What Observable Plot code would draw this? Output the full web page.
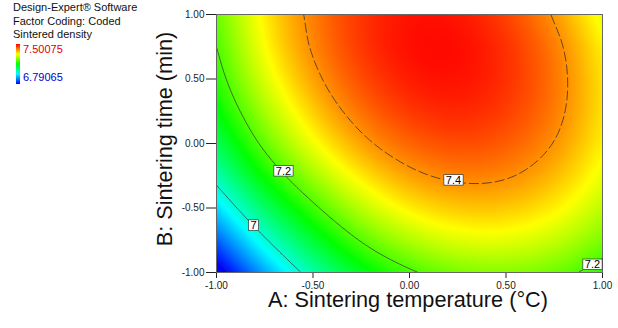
<!DOCTYPE html>
<html><head><meta charset="utf-8">
<script src="https://cdn.jsdelivr.net/npm/d3@7"></script>
<script src="https://cdn.jsdelivr.net/npm/@observablehq/plot@0.6"></script>
<style>
body{margin:0;background:#fff;}
#wrap{position:relative;width:618px;height:328px;font-family:Arial,"Liberation Sans",sans-serif;overflow:hidden;}
.lg{position:absolute;font-size:11px;line-height:13px;white-space:nowrap;color:#111;}
#bar{position:absolute;left:16px;top:44px;width:4px;height:40px;background:linear-gradient(to bottom,#ff0000,#ffff00,#00ff00,#00ffff,#0000ff);}
.axl{position:absolute;font-size:21.7px;line-height:14px;white-space:nowrap;color:#111;}
</style></head>
<body>
<div id="wrap">
  <div id="chart"></div>
  <div class="lg" style="left:13px;top:1px">Design-Expert® Software</div>
  <div class="lg" style="left:13px;top:15px">Factor Coding: Coded</div>
  <div class="lg" style="left:13px;top:28px">Sintered density</div>
  <div id="bar"></div>
  <div class="lg" id="lgMax" style="left:23px;top:43px;color:#e00000"></div>
  <div class="lg" id="lgMin" style="left:23px;top:71px;color:#0000d0"></div>
  <div class="axl" id="xlab" style="left:408px;top:293px;transform:translateX(-50%)"></div>
  <div class="axl" id="ylab" style="left:165px;top:139px;transform:translate(-50%,-50%) rotate(-90deg)"></div>
</div>
<script>
// Factor levels (coded) of the read-off grid
const tempA = [-1, -0.75, -0.5, -0.25, 0, 0.25, 0.5, 0.75, 1];
const timeB = [-1, -0.75, -0.5, -0.25, 0, 0.25, 0.5, 0.75, 1];
// Sintered density; one row per timeB value, columns follow tempA
const density = [
  [6.763, 6.906, 7.028, 7.125, 7.191, 7.229, 7.239, 7.221, 7.175],
  [6.856, 6.992, 7.109, 7.204, 7.267, 7.300, 7.305, 7.282, 7.231],
  [6.943, 7.075, 7.187, 7.275, 7.333, 7.360, 7.360, 7.332, 7.276],
  [7.022, 7.152, 7.257, 7.336, 7.387, 7.409, 7.404, 7.370, 7.310],
  [7.087, 7.214, 7.314, 7.386, 7.430, 7.447, 7.436, 7.398, 7.332],
  [7.138, 7.261, 7.356, 7.422, 7.461, 7.473, 7.457, 7.414, 7.343],
  [7.175, 7.297, 7.386, 7.447, 7.481, 7.488, 7.467, 7.419, 7.343],
  [7.200, 7.321, 7.405, 7.461, 7.490, 7.492, 7.466, 7.413, 7.332],
  [7.220, 7.334, 7.413, 7.464, 7.488, 7.485, 7.454, 7.395, 7.309]
];
const legendMax = "7.50075";
const legendMin = "6.79065";
const colorStops = [6.79065, 6.968, 7.146, 7.323, 7.50075];
const colorRange = ["#0000ff", "#00ffff", "#00ff00", "#ffff00", "#ff0000"];
const levelsSolid = [6.8, 7, 7.2];
const levelsDashed = [7.4];
const labelText = ["7.2", "7.4", "7", "7.2"];
const labelA = [-0.653, 0.228, -0.808, 0.948];
const labelB = [-0.214, -0.284, -0.634, -0.938];
const axisTicks = [-1, -0.5, 0, 0.5, 1];
const xTitle = "A: Sintering temperature (°C)";
const yTitle = "B: Sintering time (min)";

document.getElementById("lgMax").textContent = legendMax;
document.getElementById("lgMin").textContent = legendMin;
document.getElementById("xlab").textContent = xTitle;
document.getElementById("ylab").textContent = yTitle;

// smooth (Catmull-Rom) rendering of the read-off grid
const nA = tempA.length, nB = timeB.length;
const stepA = tempA[1] - tempA[0], stepB = timeB[1] - timeB[0];
function gv(i, j) {
  if (i < 0) return 2 * gv(0, j) - gv(1, j);
  if (i > nA - 1) return 2 * gv(nA - 1, j) - gv(nA - 2, j);
  if (j < 0) return 2 * gv(i, 0) - gv(i, 1);
  if (j > nB - 1) return 2 * gv(i, nB - 1) - gv(i, nB - 2);
  return density[j][i];
}
function cr(p0, p1, p2, p3, t) {
  return p1 + 0.5 * t * (p2 - p0 + t * (2 * p0 - 5 * p1 + 4 * p2 - p3 + t * (3 * (p1 - p2) + p3 - p0)));
}
function surface(a, b) {
  const u = (a - tempA[0]) / stepA, w = (b - timeB[0]) / stepB;
  const i = Math.max(0, Math.min(nA - 2, Math.floor(u)));
  const j = Math.max(0, Math.min(nB - 2, Math.floor(w)));
  const t = u - i, s = w - j;
  const rows = [-1, 0, 1, 2].map(dj => cr(gv(i - 1, j + dj), gv(i, j + dj), gv(i + 1, j + dj), gv(i + 2, j + dj), t));
  return cr(rows[0], rows[1], rows[2], rows[3], s);
}

const labels = labelText.map((t, i) => ({t, A: labelA[i], B: labelB[i]}));
const fmt = d => d.toFixed(2);
const bounds = {x1: tempA[0], x2: tempA[nA - 1], y1: timeB[0], y2: timeB[nB - 1]};

const plot = Plot.plot({
  width: 618, height: 328,
  marginLeft: 216, marginRight: 16, marginTop: 14, marginBottom: 56,
  style: {fontFamily: "Arial, 'Liberation Sans', sans-serif", fontSize: "10px", color: "#222", background: "#fff"},
  x: {domain: [-1, 1], ticks: axisTicks, tickFormat: fmt, tickSize: 6, tickPadding: 3, label: null},
  y: {domain: [-1, 1], ticks: axisTicks, tickFormat: fmt, tickSize: 10, tickPadding: 2, label: null},
  color: {type: "linear", domain: colorStops, range: colorRange, interpolate: "rgb", clamp: true},
  marks: [
    Plot.raster({...bounds, fill: surface, pixelSize: 1}),
    Plot.contour({...bounds, value: surface, thresholds: levelsSolid, stroke: "#333", strokeWidth: 0.7, fill: "none", pixelSize: 1}),
    Plot.contour({...bounds, value: surface, thresholds: levelsDashed, stroke: "#333", strokeWidth: 0.8, strokeDasharray: "10,3", fill: "none", pixelSize: 1}),
    Plot.frame({stroke: "#666"}),
    Plot.text(labels, {x: "A", y: "B", text: "t", fontSize: 11, fill: "#000"})
  ]
});
document.getElementById("chart").append(plot);

plot.querySelectorAll('g[aria-label="text"] text').forEach(t => {
  const b = t.getBBox();
  const r = document.createElementNS("http://www.w3.org/2000/svg", "rect");
  r.setAttribute("x", b.x - 2);
  r.setAttribute("y", b.y + 1);
  r.setAttribute("width", b.width + 4);
  r.setAttribute("height", b.height - 1.5);
  r.setAttribute("fill", "#fff");
  r.setAttribute("stroke", "#333");
  r.setAttribute("stroke-width", "0.7");
  if (t.getAttribute("transform")) r.setAttribute("transform", t.getAttribute("transform"));
  t.parentNode.insertBefore(r, t);
});
</script>
</body></html>
